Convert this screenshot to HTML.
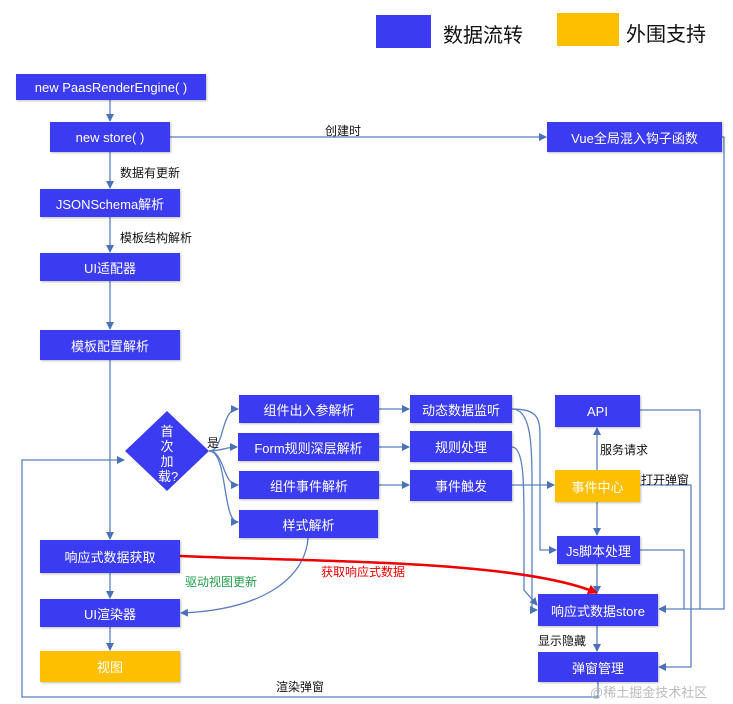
<!DOCTYPE html>
<html><head><meta charset="utf-8"><style>
body{margin:0;width:733px;height:704px;background:#fff;position:relative;overflow:hidden;font-family:"Liberation Sans","Noto Sans CJK SC",sans-serif}
.b{position:absolute;background:#3b3bf2;color:#fff;font-size:13px;display:flex;align-items:center;justify-content:center;box-shadow:1px 1px 2px rgba(0,0,0,.25)}
.y{background:#fdbf00}
.t{position:absolute;font-size:12px;color:#111;white-space:nowrap}
svg{position:absolute;left:0;top:0}
</style></head><body>
<div class="b" style="left:376px;top:15px;width:55px;height:33px;box-shadow:none"></div>
<div class="t" style="left:443px;top:19px;font-size:20px">数据流转</div>
<div class="b y" style="left:557px;top:13px;width:62px;height:33px;box-shadow:none"></div>
<div class="t" style="left:626px;top:18px;font-size:20px">外围支持</div>

<svg width="733" height="704">
<defs><marker id="a" markerWidth="8" markerHeight="8" refX="7" refY="4" orient="auto" markerUnits="userSpaceOnUse"><path d="M0,0L8,4L0,8z" fill="#4a72b8"/></marker>
<marker id="r" markerWidth="10" markerHeight="10" refX="9" refY="5" orient="auto" markerUnits="userSpaceOnUse"><path d="M0,0L10,5L0,10z" fill="#e00"/></marker></defs>
<g stroke="#5b7fc0" stroke-width="1.3" fill="none">
<path d="M110 100V121" marker-end="url(#a)"/>
<path d="M170 137H546" marker-end="url(#a)"/>
<path d="M110 152V188" marker-end="url(#a)"/>
<path d="M110 217V252" marker-end="url(#a)"/>
<path d="M110 281V329" marker-end="url(#a)"/>
<path d="M110 360V539" marker-end="url(#a)"/>
<path d="M110 573V598" marker-end="url(#a)"/>
<path d="M110 627V650" marker-end="url(#a)"/>
<path d="M209 451C225 451 220 409 238 409" marker-end="url(#a)"/>
<path d="M209 451C222 451 225 447 237 447" marker-end="url(#a)"/>
<path d="M209 451C225 451 222 485 238 485" marker-end="url(#a)"/>
<path d="M209 451C228 451 222 522 238 522" marker-end="url(#a)"/>
<path d="M379 409H409" marker-end="url(#a)"/>
<path d="M379 447H409" marker-end="url(#a)"/>
<path d="M379 485H409" marker-end="url(#a)"/>
<path d="M512 485H554" marker-end="url(#a)"/>
<path d="M308 538C305 580 260 610 181 613" marker-end="url(#a)"/>
<path d="M512 409C540 409 540 420 540 440V550H556" marker-end="url(#a)"/>
<path d="M512 409C530 409 532 440 532 480V610H537" marker-end="url(#a)"/>
<path d="M512 447C525 447 524 490 524 540V590L537 605" marker-end="url(#a)"/>
<path d="M597 470V428" marker-end="url(#a)"/>
<path d="M597 502V535" marker-end="url(#a)"/>
<path d="M597 564V593" marker-end="url(#a)"/>
<path d="M597 626V651" marker-end="url(#a)"/>
<path d="M722 137H724V609H659" marker-end="url(#a)"/>
<path d="M640 410H700V609"/>
<path d="M640 550H684V609"/>
<path d="M640 485H691V667H659" marker-end="url(#a)"/>
<path d="M598 682V697H22V460H124" marker-end="url(#a)"/>
</g>
<path d="M180 556C320 562 520 560 597 593" stroke="#e00" stroke-width="2.5" fill="none" marker-end="url(#r)"/>
<polygon points="167,411 209,451 167,491 125,451" fill="#3b3bf2"/>
</svg>

<div class="b" style="left:16px;top:74px;width:190px;height:26px">new PaasRenderEngine( )</div>
<div class="b" style="left:50px;top:122px;width:120px;height:30px">new store( )</div>
<div class="t" style="left:325px;top:122px">创建时</div>
<div class="b" style="left:547px;top:122px;width:175px;height:30px">Vue全局混入钩子函数</div>
<div class="t" style="left:120px;top:164px">数据有更新</div>
<div class="b" style="left:40px;top:189px;width:140px;height:28px">JSONSchema解析</div>
<div class="t" style="left:120px;top:229px">模板结构解析</div>
<div class="b" style="left:40px;top:253px;width:140px;height:28px">UI适配器</div>
<div class="b" style="left:40px;top:330px;width:140px;height:30px">模板配置解析</div>
<div class="t" style="left:158px;top:424px;color:#fff;font-size:13px;line-height:15px;text-align:center;width:18px;white-space:normal">首次加载?</div>
<div class="t" style="left:207px;top:434px">是</div>
<div class="b" style="left:239px;top:395px;width:140px;height:28px">组件出入参解析</div>
<div class="b" style="left:238px;top:433px;width:141px;height:28px">Form规则深层解析</div>
<div class="b" style="left:239px;top:471px;width:140px;height:28px">组件事件解析</div>
<div class="b" style="left:239px;top:510px;width:139px;height:28px">样式解析</div>
<div class="b" style="left:410px;top:395px;width:102px;height:28px">动态数据监听</div>
<div class="b" style="left:410px;top:431px;width:102px;height:31px">规则处理</div>
<div class="b" style="left:410px;top:470px;width:102px;height:31px">事件触发</div>
<div class="b" style="left:555px;top:395px;width:85px;height:32px">API</div>
<div class="t" style="left:600px;top:441px">服务请求</div>
<div class="b y" style="left:555px;top:470px;width:85px;height:32px">事件中心</div>
<div class="t" style="left:641px;top:471px">打开弹窗</div>
<div class="b" style="left:557px;top:536px;width:83px;height:28px">Js脚本处理</div>
<div class="b" style="left:40px;top:540px;width:140px;height:33px">响应式数据获取</div>
<div class="t" style="left:321px;top:563px;color:#e00">获取响应式数据</div>
<div class="t" style="left:185px;top:573px;color:#22a04a">驱动视图更新</div>
<div class="b" style="left:538px;top:594px;width:120px;height:32px">响应式数据store</div>
<div class="b" style="left:40px;top:599px;width:140px;height:28px">UI渲染器</div>
<div class="t" style="left:538px;top:632px">显示隐藏</div>
<div class="b y" style="left:40px;top:651px;width:140px;height:31px">视图</div>
<div class="b" style="left:538px;top:652px;width:120px;height:30px">弹窗管理</div>
<div class="t" style="left:276px;top:678px">渲染弹窗</div>
<div class="t" style="left:590px;top:682px;color:#bbb;font-size:13px">@稀土掘金技术社区</div>
</body></html>
